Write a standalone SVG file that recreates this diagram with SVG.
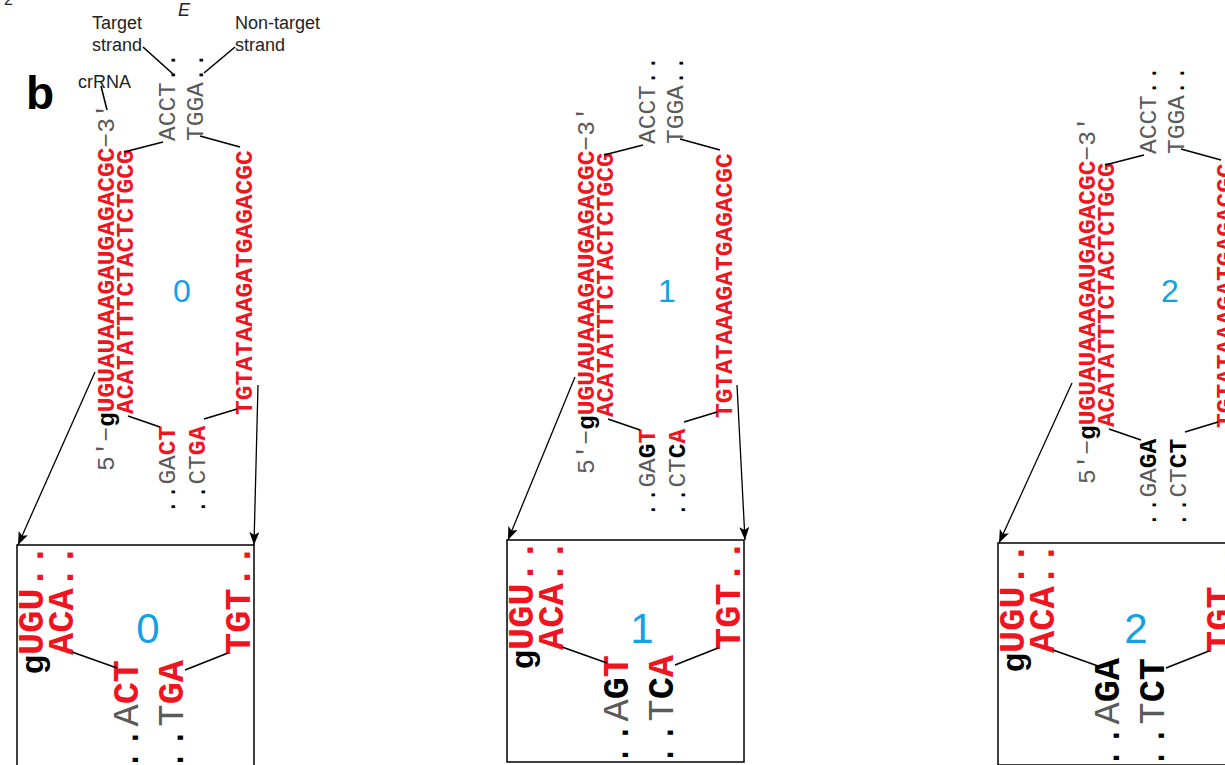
<svg xmlns="http://www.w3.org/2000/svg" width="1225" height="765" viewBox="0 0 1225 765">
<style>
.s{font-family:"Liberation Mono","Courier New",monospace;font-size:24.5px}
.b{font-family:"Liberation Mono","Courier New",monospace;font-size:37px}
.r{fill:#f0141e;font-weight:bold}
.k{fill:#000;font-weight:bold}
.g{fill:#5a5a5a;font-weight:normal}
.d{fill:#000;font-weight:normal}
.l{font-family:"Liberation Sans",Arial,sans-serif;font-size:18px;fill:#222}
.n{font-family:"Liberation Sans",Arial,sans-serif;fill:#14a0e6;text-anchor:middle}
.bg{font-family:"Liberation Sans",Arial,sans-serif;font-size:32px;font-weight:bold;fill:#000}
.ln{stroke:#000;stroke-width:1.6;fill:none}
.ar{stroke:#000;stroke-width:1.3;fill:none;marker-end:url(#ah)}
.bx{stroke:#000;stroke-width:1.5;fill:none}
</style>
<defs>
<marker id="ah" markerUnits="userSpaceOnUse" markerWidth="14" markerHeight="12" refX="13" refY="5" orient="auto">
<path d="M0,0 L13,5 L0,10 L3,5 z" fill="#000"/>
</marker>
</defs>
<rect width="1225" height="765" fill="#fff"/>

<g id="header">
<text x="4" y="5" font-family="Liberation Sans,Arial,sans-serif" font-size="16" fill="#222">2</text>
<text x="178" y="16" font-family="Liberation Sans,Arial,sans-serif" font-size="18" font-style="italic" fill="#222">E</text>
<text x="26" y="109" font-family="Liberation Sans,Arial,sans-serif" font-size="46" font-weight="bold" fill="#000">b</text>
</g>

<g id="labels">
<text class="l" x="92" y="29">Target</text>
<text class="l" x="92" y="51">strand</text>
<text class="l" x="235" y="29">Non-target</text>
<text class="l" x="235" y="51">strand</text>
<text class="l" x="78" y="88">crRNA</text>
<line class="ln" x1="143" y1="47" x2="173" y2="74" stroke-width="1.3"/>
<line class="ln" x1="235" y1="47" x2="204" y2="73" stroke-width="1.3"/>
<line class="ln" x1="101" y1="86" x2="107" y2="110" stroke-width="1.3"/>
</g>

<g id="duplex0">
<text class="s" transform="translate(114,471) rotate(-90)"><tspan class="g">5′−</tspan><tspan class="k">g</tspan><tspan class="r">UGUAUAAAGAUGAGACGC</tspan><tspan class="g">−3′</tspan></text>
<text class="s r" transform="translate(133,414) rotate(-90)">ACATATTTCTACTCTGCG</text>
<text class="s r" transform="translate(252,415) rotate(-90)">TGTATAAAGATGAGACGC</text>
<text class="s" transform="translate(175,141) rotate(-90)"><tspan class="g">ACCT</tspan><tspan class="d">..</tspan></text>
<text class="s" transform="translate(203,141) rotate(-90)"><tspan class="g">TGGA</tspan><tspan class="d">..</tspan></text>
<text class="s" transform="translate(175,514) rotate(-90)"><tspan class="d">..</tspan><tspan class="g">GA</tspan><tspan class="r">CT</tspan></text>
<text class="s" transform="translate(205,514) rotate(-90)"><tspan class="d">..</tspan><tspan class="g">CT</tspan><tspan class="r">GA</tspan></text>
<line class="ln" x1="124" y1="152" x2="163" y2="142"/>
<line class="ln" x1="200" y1="136" x2="240" y2="147"/>
<line class="ln" x1="128" y1="416" x2="160" y2="427"/>
<line class="ln" x1="204" y1="419" x2="237" y2="409"/>
<text class="n" x="182" y="302" font-size="32">0</text>
</g>

<g id="duplex1" transform="translate(480,3)">
<text class="s" transform="translate(114,471) rotate(-90)"><tspan class="g">5′−</tspan><tspan class="k">g</tspan><tspan class="r">UGUAUAAAGAUGAGACGC</tspan><tspan class="g">−3′</tspan></text>
<text class="s r" transform="translate(133,414) rotate(-90)">ACATATTTCTACTCTGCG</text>
<text class="s r" transform="translate(252,415) rotate(-90)">TGTATAAAGATGAGACGC</text>
<text class="s" transform="translate(175,141) rotate(-90)"><tspan class="g">ACCT</tspan><tspan class="d">..</tspan></text>
<text class="s" transform="translate(203,141) rotate(-90)"><tspan class="g">TGGA</tspan><tspan class="d">..</tspan></text>
<text class="s" transform="translate(175,514) rotate(-90)"><tspan class="d">..</tspan><tspan class="g">GA</tspan><tspan class="k">G</tspan><tspan class="r">T</tspan></text>
<text class="s" transform="translate(205,514) rotate(-90)"><tspan class="d">..</tspan><tspan class="g">CT</tspan><tspan class="k">C</tspan><tspan class="r">A</tspan></text>
<line class="ln" x1="124" y1="152" x2="163" y2="142"/>
<line class="ln" x1="200" y1="136" x2="240" y2="147"/>
<line class="ln" x1="128" y1="416" x2="160" y2="427"/>
<line class="ln" x1="204" y1="419" x2="237" y2="409"/>
<text class="n" x="187" y="299" font-size="32">1</text>
</g>

<g id="duplex2" transform="translate(981,13)">
<text class="s" transform="translate(114,471) rotate(-90)"><tspan class="g">5′−</tspan><tspan class="k">g</tspan><tspan class="r">UGUAUAAAGAUGAGACGC</tspan><tspan class="g">−3′</tspan></text>
<text class="s r" transform="translate(133,414) rotate(-90)">ACATATTTCTACTCTGCG</text>
<text class="s r" transform="translate(252,415) rotate(-90)">TGTATAAAGATGAGACGC</text>
<text class="s" transform="translate(175,141) rotate(-90)"><tspan class="g">ACCT</tspan><tspan class="d">..</tspan></text>
<text class="s" transform="translate(203,141) rotate(-90)"><tspan class="g">TGGA</tspan><tspan class="d">..</tspan></text>
<text class="s" transform="translate(175,514) rotate(-90)"><tspan class="d">..</tspan><tspan class="g">GA</tspan><tspan class="k">GA</tspan></text>
<text class="s" transform="translate(205,514) rotate(-90)"><tspan class="d">..</tspan><tspan class="g">CT</tspan><tspan class="k">CT</tspan></text>
<line class="ln" x1="124" y1="152" x2="163" y2="142"/>
<line class="ln" x1="200" y1="136" x2="240" y2="147"/>
<line class="ln" x1="128" y1="416" x2="160" y2="427"/>
<line class="ln" x1="204" y1="419" x2="237" y2="409"/>
<text class="n" x="189" y="289" font-size="32">2</text>
</g>

<g id="zoom0">
<rect class="bx" x="17" y="545" width="237" height="222"/>
<text class="bg" transform="translate(43,674) rotate(-90)">g</text>
<text class="b r" transform="translate(43,655) rotate(-90)">UGU..</text>
<text class="b r" transform="translate(73,655) rotate(-90)">ACA..</text>
<text class="b" transform="translate(138,771) rotate(-90)"><tspan class="d">..</tspan><tspan class="g">A</tspan><tspan class="r">CT</tspan></text>
<text class="b" transform="translate(183,771) rotate(-90)"><tspan class="d">..</tspan><tspan class="g">T</tspan><tspan class="r">GA</tspan></text>
<text class="b r" transform="translate(250,655) rotate(-90)">TGT..</text>
<line class="ln" x1="72" y1="652" x2="117" y2="668"/>
<line class="ln" x1="185" y1="670" x2="228" y2="653"/>
<text class="n" x="148" y="643" font-size="42">0</text>
</g>

<g id="zoom1" transform="translate(490,-5)">
<rect class="bx" x="17" y="545" width="237" height="222"/>
<text class="bg" transform="translate(43,674) rotate(-90)">g</text>
<text class="b r" transform="translate(43,655) rotate(-90)">UGU..</text>
<text class="b r" transform="translate(73,655) rotate(-90)">ACA..</text>
<text class="b" transform="translate(138,771) rotate(-90)"><tspan class="d">..</tspan><tspan class="g">A</tspan><tspan class="k">G</tspan><tspan class="r">T</tspan></text>
<text class="b" transform="translate(183,771) rotate(-90)"><tspan class="d">..</tspan><tspan class="g">T</tspan><tspan class="k">C</tspan><tspan class="r">A</tspan></text>
<text class="b r" transform="translate(250,655) rotate(-90)">TGT..</text>
<line class="ln" x1="72" y1="652" x2="117" y2="668"/>
<line class="ln" x1="185" y1="670" x2="228" y2="653"/>
<text class="n" x="152" y="648" font-size="42">1</text>
</g>

<g id="zoom2" transform="translate(981,-2)">
<rect class="bx" x="17" y="545" width="237" height="222"/>
<text class="bg" transform="translate(43,674) rotate(-90)">g</text>
<text class="b r" transform="translate(43,655) rotate(-90)">UGU..</text>
<text class="b r" transform="translate(73,655) rotate(-90)">ACA..</text>
<text class="b" transform="translate(138,771) rotate(-90)"><tspan class="d">..</tspan><tspan class="g">A</tspan><tspan class="k">GA</tspan></text>
<text class="b" transform="translate(183,771) rotate(-90)"><tspan class="d">..</tspan><tspan class="g">T</tspan><tspan class="k">CT</tspan></text>
<text class="b r" transform="translate(250,655) rotate(-90)">TGT..</text>
<line class="ln" x1="72" y1="652" x2="117" y2="668"/>
<line class="ln" x1="185" y1="670" x2="228" y2="653"/>
<text class="n" x="155" y="645" font-size="42">2</text>
</g>

<g id="connectors">
<line class="ar" x1="95" y1="372" x2="18" y2="545"/>
<line class="ar" x1="258" y1="385" x2="254" y2="545"/>
<line class="ar" x1="575" y1="377" x2="508" y2="540"/>
<line class="ar" x1="737" y1="385" x2="745" y2="540"/>
<line class="ar" x1="1072" y1="383" x2="999" y2="543"/>
</g>
</svg>
